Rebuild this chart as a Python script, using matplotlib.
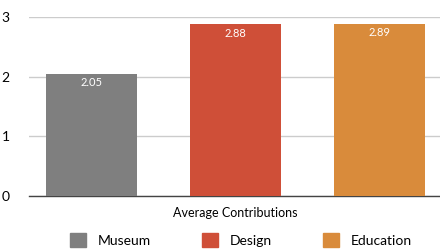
import matplotlib.pyplot as plt
from matplotlib.patches import Patch

# data
categories = ['Museum', 'Design', 'Education']
values = [2.05, 2.88, 2.89]
colors = ['#7f7f7f', '#cf4f38', '#d98b3b']
yticks = [0, 1, 2, 3]
ytick_labels = ['0', '1', '2', '3']
xlabel = 'Average Contributions'

plt.rcParams['font.family'] = ['Lato', 'DejaVu Sans']

fig = plt.figure(figsize=(4.4, 2.52), dpi=100)
ax = fig.add_axes([29 / 440, 1 - 196 / 252, 411 / 440, 179 / 252])

x = list(range(len(categories)))
bars = ax.bar(x, values, width=0.632, color=colors, zorder=3)
for b, v in zip(bars, values):
    ax.text(b.get_x() + b.get_width() / 2, v - 0.06, '%.2f' % v,
            ha='center', va='top', color='white', fontsize=8, zorder=4)

ax.set_xlim(-0.434, 2.42)
ax.set_ylim(0, 3)
ax.set_yticks(yticks)
ax.set_yticklabels(ytick_labels, fontsize=10)
ax.set_xticks([])
ax.yaxis.grid(True, color='#cccccc', linewidth=1, zorder=0)
ax.tick_params(axis='y', length=0, pad=14)
for s in ['top', 'right', 'left']:
    ax.spines[s].set_visible(False)
ax.spines['bottom'].set_color('#444444')
ax.spines['bottom'].set_linewidth(1)

fig.text(235 / 440, 1 - 213 / 252, xlabel, ha='center', va='center', fontsize=9)

handles = [Patch(color=c, label=l) for c, l in zip(colors, categories)]
fig.legend(handles=handles, loc='center', bbox_to_anchor=(241 / 440, 1 - 240 / 252),
           ncol=3, frameon=False, fontsize=10, handlelength=1.15, handleheight=1.15,
           columnspacing=3.7, handletextpad=0.85)

fig.savefig('out.png', dpi=100)
